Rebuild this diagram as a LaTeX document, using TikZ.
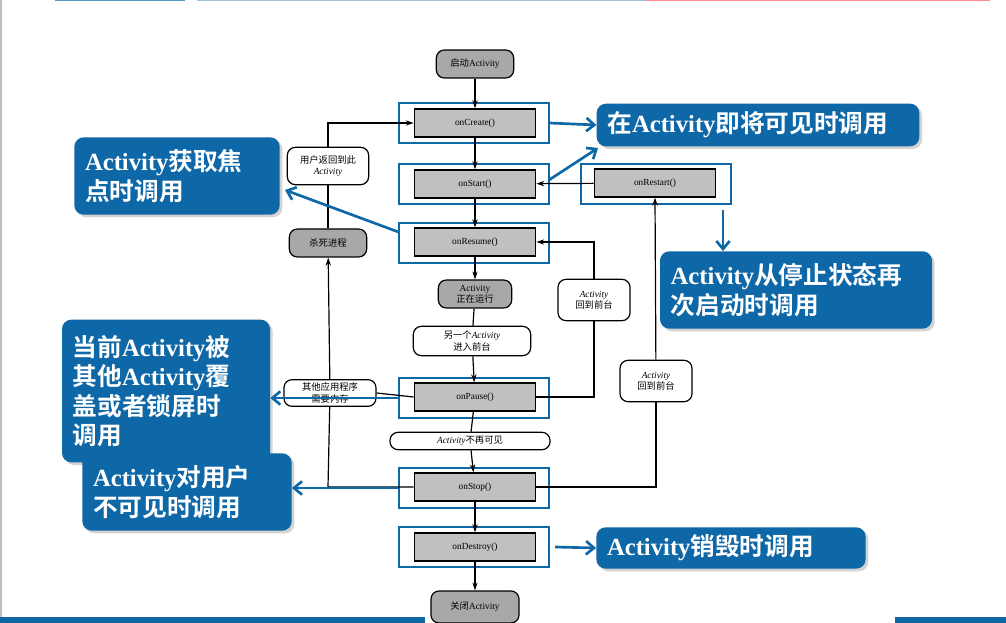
\documentclass[tikz,border=0pt]{standalone}
\usepackage{fontspec}
\setmainfont{Liberation Serif}
\newfontfamily\cjkb{Noto Sans CJK SC}[BoldFont={Noto Sans CJK SC Bold}]
\newcommand{\C}[1]{{\cjkb #1}}
\usetikzlibrary{arrows.meta,shadows}
\definecolor{cblue}{HTML}{0E67A6}
\definecolor{gfill}{HTML}{C0C0C0}
\definecolor{dgfill}{HTML}{A8A8A8}
\begin{document}
\begin{tikzpicture}[x=0.75pt,y=-0.75pt,
  meth/.style={draw=black,line width=1pt,fill=gfill,minimum width=91pt,minimum height=21pt,font=\fontsize{7}{8}\selectfont,inner sep=0pt},
  frame/.style={draw=cblue,line width=1.3pt,minimum width=112pt,minimum height=30pt,inner sep=0pt},
  term/.style={draw=black,line width=0.9pt,fill=dgfill,rounded corners=6pt,minimum height=21pt,inner sep=2pt,font=\fontsize{7}{8}\selectfont,align=center},
  lab/.style={draw=black,line width=0.9pt,fill=white,rounded corners=6pt,inner sep=2pt,font=\fontsize{7}{8.5}\selectfont,align=center},
  flow/.style={line width=0.9pt,-{Stealth[length=6pt,width=4pt]}},
  ln/.style={line width=0.9pt},
  call/.style={fill=cblue,text=white,rounded corners=7pt,drop shadow={shadow xshift=2pt,shadow yshift=-2pt,opacity=0.35},font=\fontsize{18.5}{22}\selectfont\bfseries,align=left,inner xsep=8pt,inner ysep=4pt,text width=#1},
  barr/.style={draw=cblue,line width=2pt,-{Straight Barb[length=6pt,width=10pt]}}]
\useasboundingbox (0,0) rectangle (1006,623);
% decorations
\fill[gray!50] (0,0) rectangle (2,623);
\fill[cblue!70] (55,0) rectangle (185,1.5);
\fill[cblue!40] (197,0) rectangle (645,1.5);
\fill[red!45] (645,0) rectangle (990,1.5);
\fill[cblue] (0,617) rectangle (425,623);
\fill[cblue] (895,617) rectangle (1006,623);
% method boxes
\node[meth] (create) at (475,123) {onCreate()};
\node[meth] (start) at (475,184) {onStart()};
\node[meth] (restart) at (655,183) {onRestart()};
\node[meth] (resume) at (475,242) {onResume()};
\node[meth] (pause) at (475,397) {onPause()};
\node[meth] (stop) at (475,487) {onStop()};
\node[meth] (destroy) at (475,547) {onDestroy()};
\node[frame] (fcreate) at (474,123) {};
\node[frame] (fstart) at (474,184) {};
\node[frame] (frestart) at (656,184) {};
\node[frame] (fresume) at (474,243) {};
\node[frame] (fpause) at (474,398) {};
\node[frame] (fstop) at (474,488) {};
\node[frame] (fdestroy) at (474,547) {};
% terminals and labels
\node[term,minimum width=58pt] (begin) at (475,64) {\C{启动}Activity};
\node[term,minimum width=55pt,minimum height=21pt,inner sep=1pt,font=\fontsize{7}{8.5}\selectfont] (run) at (475,294) {Activity\\\C{正在运行}};
\node[term,minimum width=66pt,minimum height=24pt] (close) at (475,607) {\C{关闭}Activity};
\node[term,minimum width=58pt] (kill) at (328,243) {\C{杀死进程}};
\node[lab,minimum width=88pt,minimum height=22pt,inner sep=1pt] (other) at (472,341) {\C{另一个}\textit{Activity}\\\C{进入前台}};
\node[lab,minimum width=120pt,minimum height=13pt,inner sep=0pt] (invis) at (470,441) {\textit{Activity}\C{不再可见}};
\node[lab,minimum width=61pt,minimum height=28pt,inner sep=1pt] (back) at (328,166) {\C{用户返回到此}\\\textit{Activity}};
\node[lab,minimum width=69pt,minimum height=20pt,inner sep=1pt] (mem) at (330,393) {\C{其他应用程序}\\\C{需要内存}};
\node[lab,minimum width=54pt,minimum height=31pt,inner sep=1pt] (fg1) at (594,300) {\textit{Activity}\\\C{回到前台}};
\node[lab,minimum width=54pt,minimum height=31pt,inner sep=1pt] (fg2) at (656,381) {\textit{Activity}\\\C{回到前台}};
\coordinate (cA) at (328,123);
\coordinate (cB) at (328,487);
\coordinate (cC) at (594,397);
\coordinate (cD) at (594,242);
\coordinate (cE) at (656,487);
% flow
\draw[flow] (begin) -- (create);
\draw[flow] (create) -- (start);
\draw[flow] (start) -- (resume);
\draw[flow] (resume) -- (run);
\draw[ln] (run) -- (other);
\draw[flow] (other) -- (pause);
\draw[ln] (pause) -- (invis);
\draw[flow] (invis) -- (stop);
\draw[flow] (stop) -- (destroy);
\draw[flow] (destroy) -- (close);
\draw[flow] (restart) -- (start);
\draw[ln] (pause.east) -- (cC) -- (fg1);
\draw[flow] (fg1) -- (cD) -- (resume.east);
\draw[ln] (stop.east) -- (cE) -- (fg2);
\draw[flow] (fg2) -- (restart.south);
\draw[ln] (stop.west) -- (cB) -- (mem);
\draw[ln] (pause.west) -- (mem.east);
\draw[flow] (mem) -- (kill);
\draw[ln] (kill) -- (back);
\draw[flow] (back) -- (cA) -- (create.west);
% callouts
\node[call=226pt,minimum height=32pt] (k1) at (758,125) {\C{在}Activity\C{即将可见时调用}};
\node[call=138pt,minimum height=58pt] (k2) at (177,176) {Activity\C{获取焦}\\\C{点时调用}};
\node[call=188pt,minimum height=58pt] (k3) at (796,290) {Activity\C{从停止状态再}\\\C{次启动时调用}};
\node[call=140pt,minimum height=107pt] (k4) at (166,391) {\C{当前}Activity\C{被}\\\C{其他}Activity\C{覆}\\\C{盖或者锁屏时}\\\C{调用}};
\node[call=141pt,minimum height=58pt] (k5) at (187,492) {Activity\C{对用户}\\\C{不可见时调用}};
\node[call=186pt,minimum height=31pt] (k6) at (731,548) {Activity\C{销毁时调用}};
\coordinate (s3) at (723,210);
\draw[barr] (fcreate.east) -- (k1.west);
\draw[barr] (549,180) -- (598,148);
\draw[barr] (fresume.west |- 0,232) -- (285,190);
\draw[barr] (s3) -- (k3.north -| s3);
\draw[barr] (fpause.west) -- (k4.east |- fpause.west);
\draw[barr] (fstop.west) -- (k5.east |- fstop.west);
\draw[barr] (555,547) -- (k6.west);
\end{tikzpicture}
\end{document}
